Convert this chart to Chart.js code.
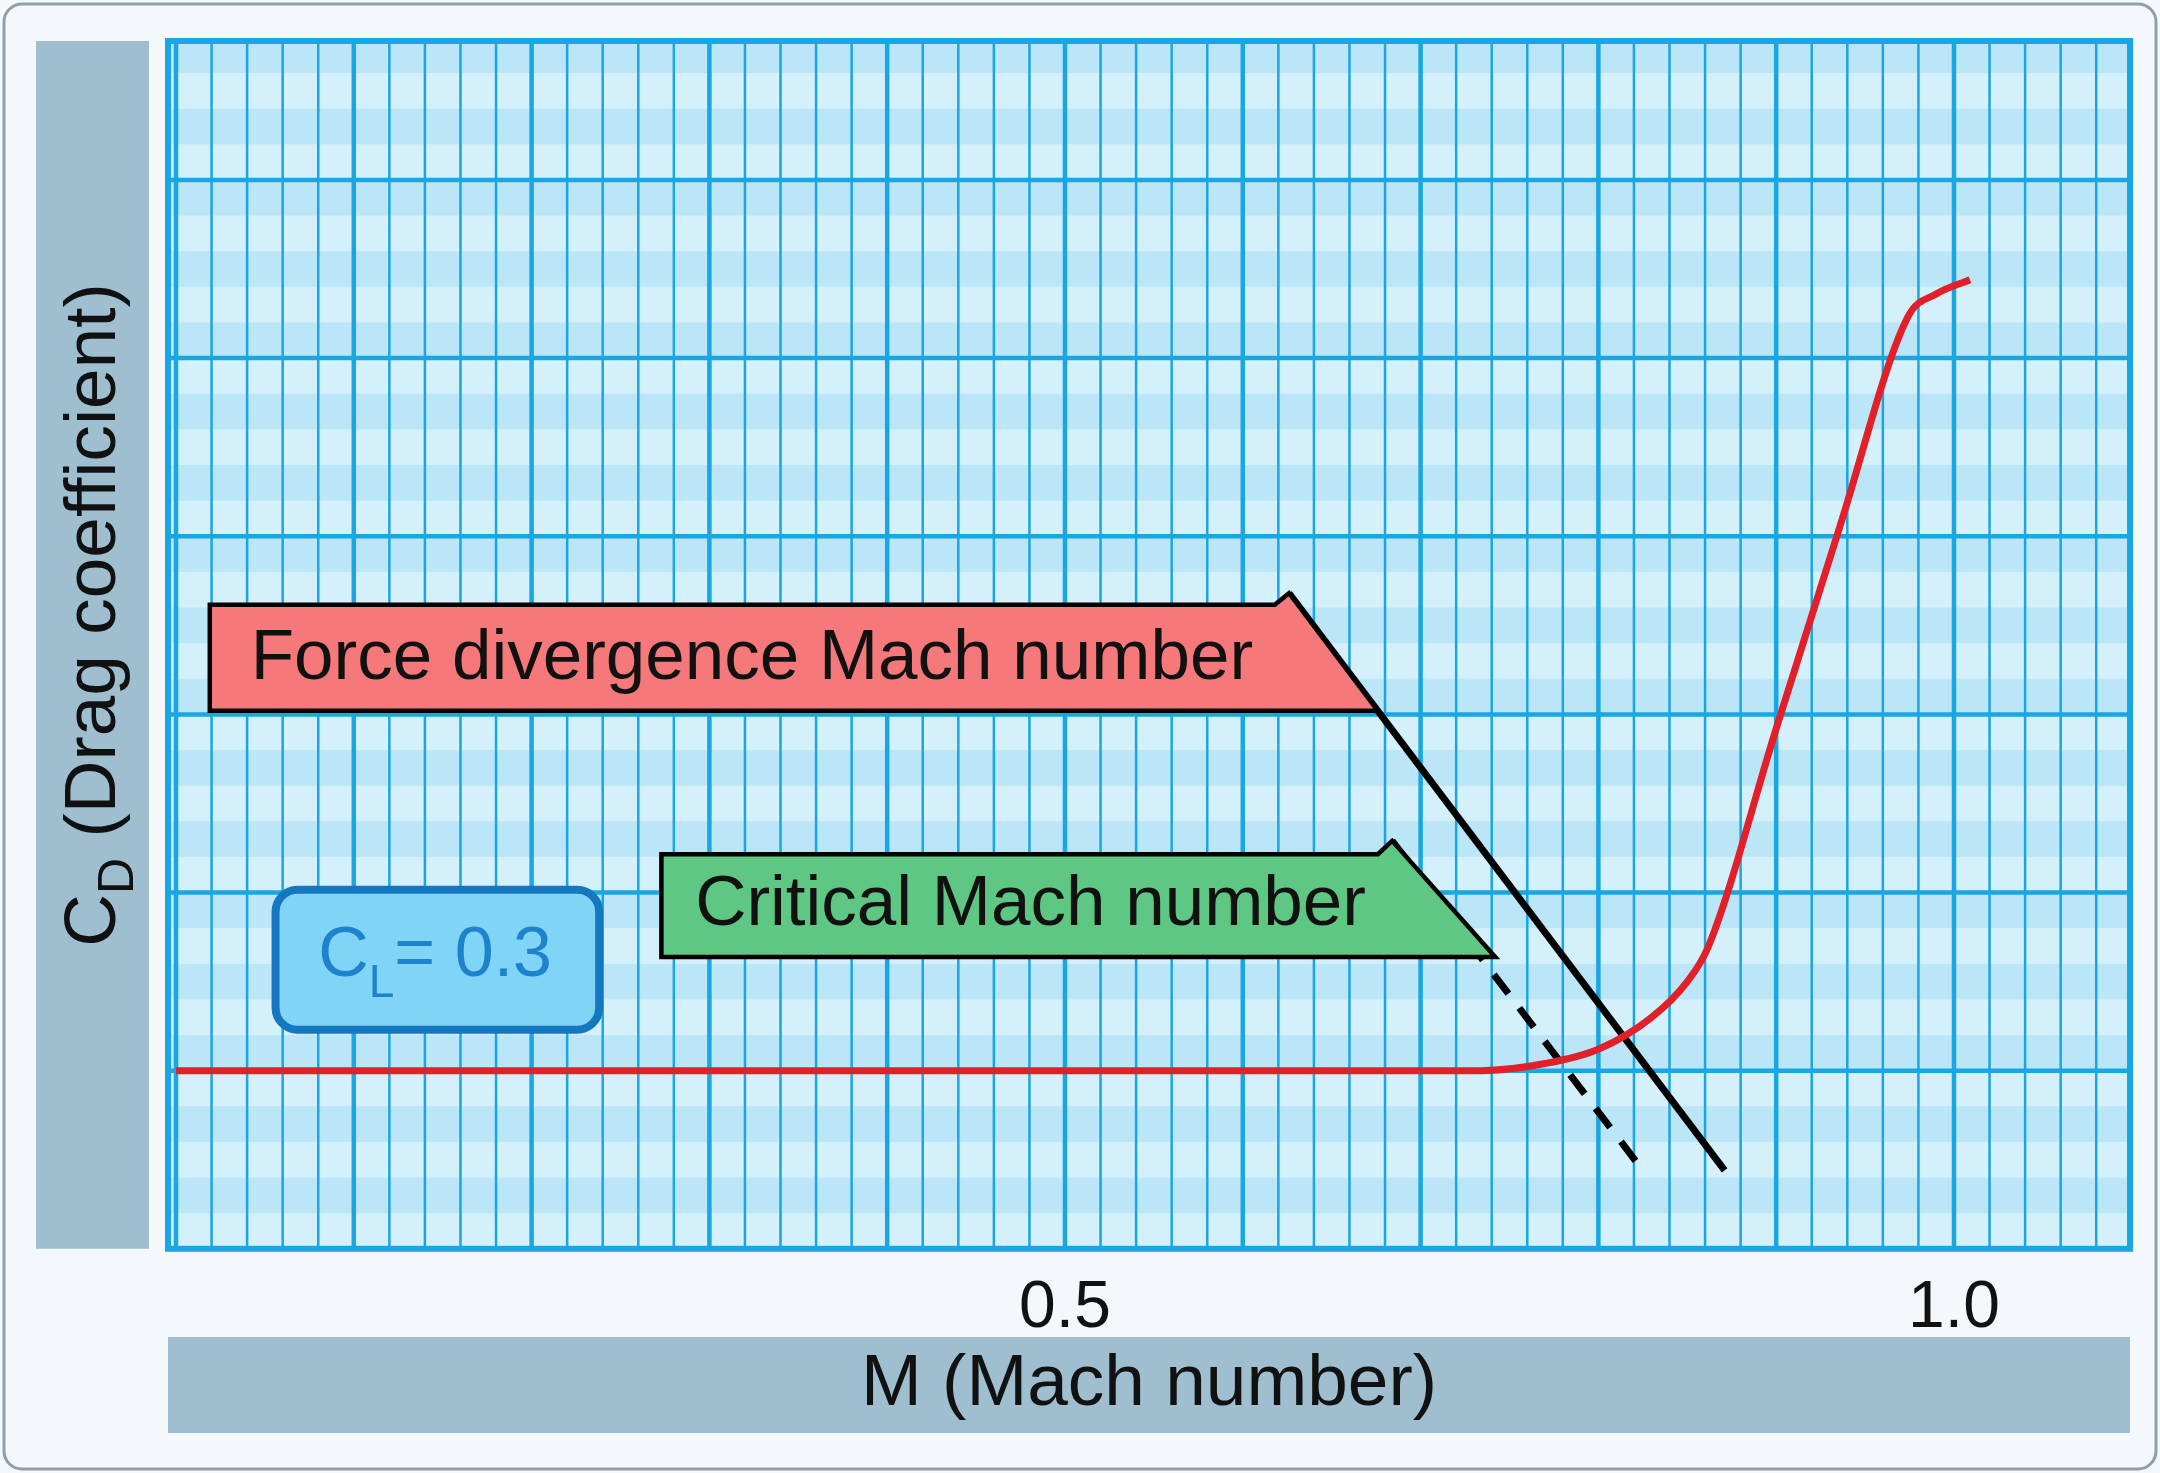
<!DOCTYPE html>
<html><head><meta charset="utf-8">
<script src="https://cdn.jsdelivr.net/npm/chart.js@4/dist/chart.umd.min.js"></script>
<style>html,body{margin:0;padding:0;background:#f4f8fb}#w{width:2160px;height:1473px}</style>
</head><body><div id="w"><canvas id="c"></canvas></div>
<script>
// Data (x: Mach number, y: grid units of drag coefficient)
const dragMach = [0.0, 0.734, 0.77, 0.80, 0.83, 0.85, 0.862, 0.90, 0.936, 0.974, 0.99, 1.009];
const dragCD   = [1.0, 1.0,   1.04, 1.12, 1.30, 1.50, 1.70,  2.92, 4.06,  5.23,  5.36, 5.44];
const forceLineMach = [0.626, 0.871];
const forceLineCD   = [3.68, 0.44];
const critLineMach  = [0.684, 0.825];
const critLineCD    = [2.29, 0.44];
const xTickValues = [0.5, 1.0];
const xTickLabels = ['0.5', '1.0'];
const majorX = [0.0,0.1,0.2,0.3,0.4,0.5,0.6,0.7,0.8,0.9,1.0];
const majorY = [0,1,2,3,4,5,6];
const labels = ['Force divergence Mach number', 'Critical Mach number'];

const pts = (xs, ys) => xs.map((x,i)=>({x, y: ys[i]}));
const FONT = '"Liberation Sans", Arial, sans-serif';

const bgPlugin = {
  id:'bg',
  beforeDraw(ch){
    const c = ch.ctx, a = ch.chartArea, xs = ch.scales.x, ys = ch.scales.y;
    c.save();
    c.fillStyle='#f4f8fb'; c.strokeStyle='#8f9ea9'; c.lineWidth=3;
    c.beginPath(); c.roundRect(4,4,2152,1465,18); c.fill(); c.stroke();
    c.fillStyle='#d4f0fb'; c.fillRect(a.left,a.top,a.right-a.left,a.bottom-a.top);
    c.fillStyle='#bbe6f8';
    for(let k=0;k<40;k++){
      const v0=k*0.2, v1=v0+0.2; if(k%2===0) continue;
      let p0=ys.getPixelForValue(v1), p1=ys.getPixelForValue(v0);
      p0=Math.max(p0,a.top); if(p1<=a.top) continue;
      c.fillRect(a.left,p0,a.right-a.left,p1-p0);
    }
    c.strokeStyle='#19a6e2';
    c.lineWidth=2.5;
    for(let k=-1;k<=56;k++){
      const v=k*0.02; const p=xs.getPixelForValue(v);
      if(p<a.left||p>a.right) continue;
      c.beginPath(); c.moveTo(p,a.top); c.lineTo(p,a.bottom); c.stroke();
    }
    c.lineWidth=4.5;
    majorX.forEach(v=>{const p=xs.getPixelForValue(v); c.beginPath(); c.moveTo(p,a.top); c.lineTo(p,a.bottom); c.stroke();});
    majorY.forEach(v=>{const p=ys.getPixelForValue(v); c.beginPath(); c.moveTo(a.left,p); c.lineTo(a.right,p); c.stroke();});
    c.lineWidth=6; c.strokeRect(a.left,a.top,a.right-a.left,a.bottom-a.top);
    c.fillStyle='#9fbfd0';
    c.fillRect(36,a.top,113,a.bottom-a.top);
    c.fillRect(a.left,1337,a.right-a.left,96);
    c.fillStyle='#111';
    c.font='73px '+FONT; c.textAlign='center'; c.textBaseline='middle';
    c.fillText('M (Mach number)',(a.left+a.right)/2,1385);
    c.save(); c.translate(95,(a.top+a.bottom)/2); c.rotate(-Math.PI/2);
    c.textAlign='left';
    const t1='C', t2='D', t3=' (Drag coefficient)';
    c.font='73px '+FONT; const w1=c.measureText(t1).width, w3=c.measureText(t3).width;
    c.font='50px '+FONT; const w2=c.measureText(t2).width;
    let x0=-(w1+w2+w3)/2+30;
    c.font='73px '+FONT; c.fillText(t1,x0,0);
    c.font='50px '+FONT; c.fillText(t2,x0+w1,24);
    c.font='73px '+FONT; c.fillText(t3,x0+w1+w2,0);
    c.restore();
    c.restore();
  },
  afterDatasetsDraw(ch){
    const c=ch.ctx, X=v=>ch.scales.x.getPixelForValue(v), Y=v=>ch.scales.y.getPixelForValue(v);
    c.save();
    const flag=(l,r,top,bot,tipx,tipy,brx,fill)=>{
      c.fillStyle=fill; c.strokeStyle='#000'; c.lineWidth=4.5;
      c.beginPath(); c.moveTo(X(l),Y(top)); c.lineTo(X(r),Y(top)); c.lineTo(X(tipx),Y(tipy));
      c.lineTo(X(brx),Y(bot)); c.lineTo(X(l),Y(bot)); c.closePath(); c.fill(); c.stroke();
    };
    flag(0.019,0.618,3.615,3.02,0.626,3.68,0.676,'#f5797b');
    flag(0.273,0.676,2.215,1.638,0.684,2.29,0.742,'#5dc783');
    c.fillStyle='#111'; c.font='71px '+FONT; c.textBaseline='middle'; c.textAlign='left';
    c.fillText(labels[0],X(0.042),Y(3.31));
    c.fillText(labels[1],X(0.292),Y(1.93));
    c.fillStyle='#80d4f6'; c.strokeStyle='#1577c0'; c.lineWidth=8;
    c.beginPath(); c.roundRect(X(0.056),Y(2.015),X(0.238)-X(0.056),Y(1.23)-Y(2.015),22); c.fill(); c.stroke();
    c.fillStyle='#1e82cc'; c.font='70px '+FONT;
    const cy=Y(1.64); let cx=X(0.08);
    c.fillText('C',cx,cy); cx+=c.measureText('C').width;
    c.font='46px '+FONT; c.fillText('L',cx,cy+28); cx+=c.measureText('L').width;
    c.font='70px '+FONT; c.fillText('= 0.3',cx,cy);
    c.restore();
  }
};

new Chart(document.getElementById('c'),{
  type:'line',
  data:{datasets:[
    {data:pts(dragMach,dragCD),borderColor:'#e3202a',borderWidth:7,pointRadius:0,cubicInterpolationMode:'monotone'},
    {data:pts(forceLineMach,forceLineCD),borderColor:'#000',borderWidth:7,pointRadius:0},
    {data:pts(critLineMach,critLineCD),borderColor:'#000',borderWidth:7,pointRadius:0,borderDash:[24,18]}
  ]},
  options:{
    responsive:true,maintainAspectRatio:false,animation:false,
    layout:{padding:{left:168,right:30,top:41,bottom:113}},
    plugins:{legend:{display:false},tooltip:{enabled:false}},
    scales:{
      x:{type:'linear',min:-0.0045,max:1.099,
        grid:{display:false},border:{display:false},
        afterBuildTicks:s=>{s.ticks=xTickValues.map(v=>({value:v}));},
        ticks:{padding:12,color:'#111',font:{size:66,family:FONT},maxRotation:0,
          callback:(v)=>{const i=xTickValues.indexOf(v);return i>=0?xTickLabels[i]:'';}}},
      y:{type:'linear',min:0,max:6.78,display:false}
    }
  },
  plugins:[bgPlugin]
});
</script></body></html>
